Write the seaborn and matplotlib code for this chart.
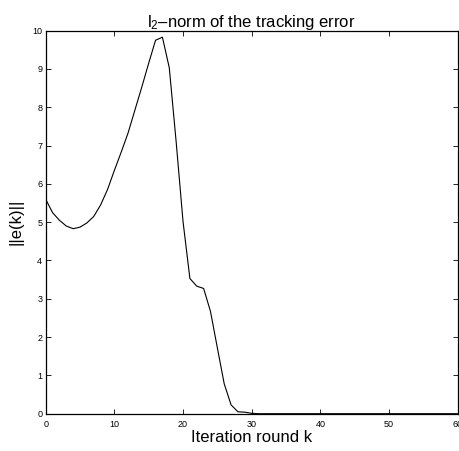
import numpy as np
import pandas as pd
import matplotlib
matplotlib.use("Agg")
import matplotlib.pyplot as plt
import seaborn as sns

# iteration rounds and the l2-norm of the error
iterations = list(range(0, 61))
error_norm = [5.60, 5.25, 5.05, 4.90, 4.83, 4.87, 4.98, 5.15, 5.45, 5.85,
              6.35, 6.83, 7.33, 7.93, 8.53, 9.15, 9.75, 9.83, 9.03, 7.10,
              5.02, 3.53, 3.33, 3.27, 2.67, 1.72, 0.78, 0.23, 0.05, 0.04,
              0.01] + [0.0] * 30

x_ticks = [0, 10, 20, 30, 40, 50, 60]
y_ticks = [0, 1, 2, 3, 4, 5, 6, 7, 8, 9, 10]

sns.set_style("ticks")
plt.rcParams['font.family'] = ['Liberation Sans', 'DejaVu Sans']
plt.rcParams['mathtext.fontset'] = 'custom'
plt.rcParams['mathtext.rm'] = 'Liberation Sans'
plt.rcParams['mathtext.it'] = 'Liberation Sans'
# MATLAB look: everything black
plt.rcParams['text.color'] = 'black'
plt.rcParams['axes.labelcolor'] = 'black'
plt.rcParams['xtick.color'] = 'black'
plt.rcParams['ytick.color'] = 'black'

df = pd.DataFrame({'k': iterations, 'e': error_norm})

fig = plt.figure(figsize=(4.6, 4.51), dpi=100)
ax = fig.add_axes([0.0993, 0.0827, 0.8957, 0.8493])

sns.lineplot(data=df, x='k', y='e', color='black', linewidth=0.8, ax=ax)

ax.set_xlim(0, 60)
ax.set_ylim(0, 10)
ax.set_xticks(x_ticks)
ax.set_yticks(y_ticks)
ax.tick_params(axis='both', direction='in', length=3.5, width=0.6,
               labelsize=6.5, top=True, right=True, color='black',
               labelcolor='black')
ax.tick_params(axis='x', pad=4.5)
ax.tick_params(axis='y', pad=2.5)
for s in ax.spines.values():
    s.set_visible(True)
    s.set_color('black')
    s.set_linewidth(0.9)

ax.set_xlabel('Iteration round k', fontsize=12, labelpad=1, color='black')
ax.set_ylabel('||e(k)||', fontsize=12, labelpad=6, color='black')
ax.set_title(r'l$_{\mathregular{2}}$–norm of the tracking error', fontsize=12,
             pad=3, color='black')

fig.savefig('out.png', dpi=100)
